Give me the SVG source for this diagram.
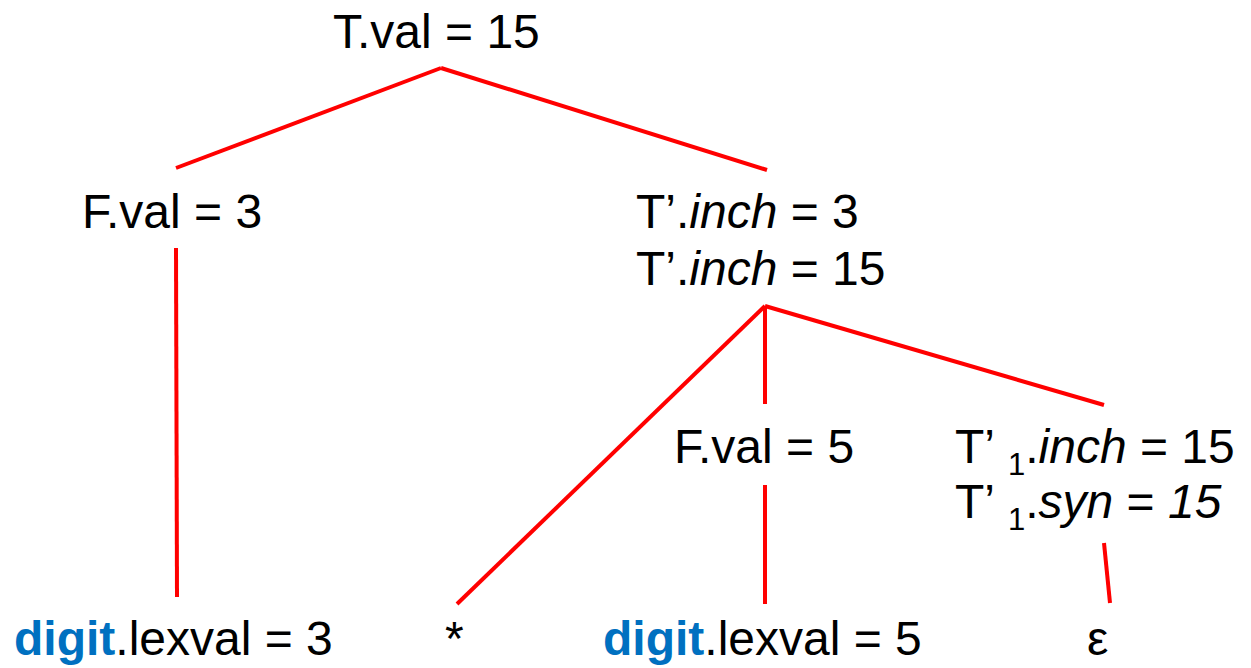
<svg xmlns="http://www.w3.org/2000/svg" width="1251" height="668" viewBox="0 0 1251 668">
<style>
text{font-family:"Liberation Sans",Arial,sans-serif;font-size:48px;fill:#000}
.b{fill:#0070c0;font-weight:bold}
.i{font-style:italic}
.s{font-size:31px}
.e{stroke:#ff0000;stroke-width:4;fill:none}
</style>
<rect width="1251" height="668" fill="#fff"/>
<g id="connectors" class="e">
<line x1="441" y1="68" x2="176" y2="168"/>
<line x1="441" y1="68" x2="767" y2="170"/>
<line x1="176" y1="248" x2="177" y2="597"/>
<line x1="765" y1="306" x2="457" y2="604"/>
<line x1="765" y1="306" x2="765" y2="404"/>
<line x1="765" y1="306" x2="1104" y2="405"/>
<line x1="765" y1="485" x2="765" y2="604"/>
<line x1="1104" y1="543" x2="1110" y2="603"/>
</g>
<g id="n_T"><text x="333" y="48">T.val = 15</text></g>
<g id="n_F1"><text x="82" y="228">F.val = 3</text></g>
<g id="n_Tp"><text x="636" y="228">T’.<tspan class="i">inch</tspan> = 3</text><text x="636" y="285">T’.<tspan class="i">inch</tspan> = 15</text></g>
<g id="n_F2"><text x="674" y="463">F.val = 5</text></g>
<g id="n_Tp1"><text x="955" y="463">T’<tspan class="s" dx="13" dy="12">1</tspan><tspan dy="-12">.</tspan><tspan class="i">inch</tspan> = 15</text><text x="955" y="518">T’<tspan class="s" dx="13" dy="12">1</tspan><tspan dy="-12">.</tspan><tspan class="i">syn</tspan> = <tspan class="i">15</tspan></text></g>
<g id="n_d1"><text x="14" y="655"><tspan class="b">digit</tspan>.lexval = 3</text></g>
<g id="n_star"><text x="445" y="655">*</text></g>
<g id="n_d2"><text x="603" y="655"><tspan class="b">digit</tspan>.lexval = 5</text></g>
<g id="n_eps"><text x="1087" y="655">ε</text></g>
</svg>
